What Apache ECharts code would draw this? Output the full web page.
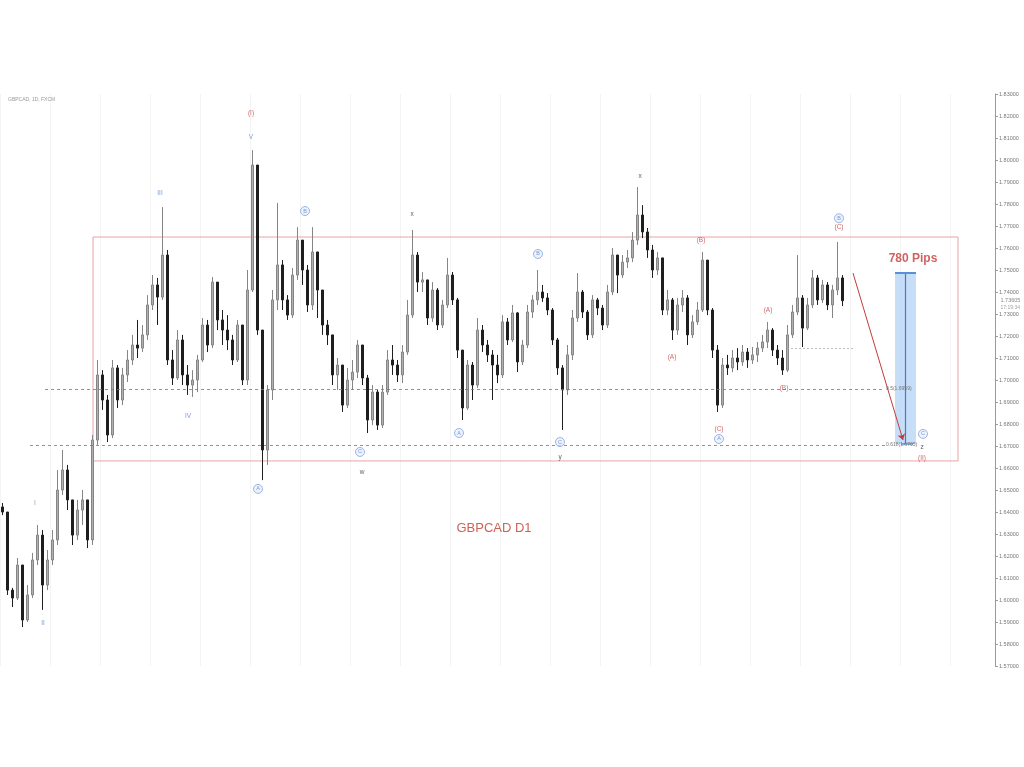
<!DOCTYPE html>
<html>
<head>
<meta charset="utf-8">
<title>GBPCAD D1</title>
<script src="https://cdn.jsdelivr.net/npm/echarts@6/dist/echarts.min.js"></script>
<style>
    html, body { margin: 0; padding: 0; background: #fff; }
    #main { width: 1024px; height: 767px; }
</style>
</head>
<body>
<div id="main"></div>
<script>
    // 日线数据: open 取上一根收盘价
    const firstOpen = 1.6423;
    const closes = [
        1.64, 1.6045, 1.6009, 1.6159, 1.5909, 1.6023, 1.6182, 1.6295, 1.6068, 1.6182,
        1.6273, 1.65, 1.6591, 1.6455, 1.6295, 1.6409, 1.6455, 1.6273, 1.6727, 1.7023,
        1.6909, 1.675, 1.7055, 1.6909, 1.7023, 1.7091, 1.7159, 1.7145, 1.7205, 1.7341,
        1.7432, 1.7377, 1.7568, 1.7091, 1.7009, 1.7182, 1.7023, 1.6977, 1.70, 1.7091,
        1.725, 1.7159, 1.7445, 1.7273, 1.7227, 1.7182, 1.7091, 1.725, 1.70, 1.7409,
        1.7977, 1.7227, 1.6682, 1.6955, 1.7364, 1.7523, 1.7364, 1.7295, 1.7477, 1.7636,
        1.75, 1.7341, 1.7582, 1.7409, 1.725, 1.7205, 1.7023, 1.7068, 1.6886, 1.70,
        1.7036, 1.7159, 1.7009, 1.6818, 1.6945, 1.6795, 1.6945, 1.7091, 1.7068, 1.7023,
        1.7127, 1.7295, 1.7568, 1.7445, 1.7455, 1.7282, 1.7409, 1.725, 1.7341, 1.7477,
        1.7364, 1.7136, 1.6873, 1.7068, 1.6977, 1.7227, 1.7159, 1.7114, 1.7068, 1.7023,
        1.7264, 1.7182, 1.7305, 1.7082, 1.7159, 1.7309, 1.7364, 1.74, 1.7373, 1.7318,
        1.7182, 1.7055, 1.6955, 1.7114, 1.7282, 1.74, 1.7309, 1.7205, 1.7364, 1.7327,
        1.725, 1.74, 1.7568, 1.7477, 1.7536, 1.7555, 1.7636, 1.775, 1.7673, 1.7591,
        1.75, 1.7555, 1.7318, 1.7364, 1.7227, 1.7341, 1.7373, 1.7205, 1.7264, 1.7318,
        1.7545, 1.7318, 1.7136, 1.6886, 1.7068, 1.7055, 1.71, 1.7082, 1.7127, 1.7091,
        1.7114, 1.7145, 1.7173, 1.7227, 1.7136, 1.71, 1.7045, 1.7205, 1.7309, 1.7373,
        1.7236, 1.7341, 1.7464, 1.7364, 1.7432, 1.7341, 1.7409, 1.7464, 1.73605
    ];
    const highs = [
        1.6441, 1.64, 1.6055, 1.6191, 1.6159, 1.6068, 1.6214, 1.6341, 1.6318, 1.6227,
        1.6318, 1.6591, 1.6682, 1.6614, 1.6455, 1.6455, 1.65, 1.6455, 1.675, 1.7091,
        1.7045, 1.6932, 1.7091, 1.7068, 1.7055, 1.7136, 1.7205, 1.7273, 1.725, 1.7386,
        1.7477, 1.7464, 1.7786, 1.7591, 1.7136, 1.7227, 1.7205, 1.7068, 1.7045, 1.7114,
        1.7282, 1.7273, 1.7468, 1.7432, 1.7318, 1.7295, 1.7205, 1.7273, 1.725, 1.75,
        1.8045, 1.7955, 1.7227, 1.6977, 1.7409, 1.7805, 1.7545, 1.7386, 1.7509, 1.7695,
        1.7636, 1.7523, 1.7695, 1.7568, 1.7409, 1.7273, 1.7205, 1.71, 1.7068, 1.7055,
        1.7091, 1.7182, 1.7159, 1.7023, 1.6977, 1.6955, 1.6977, 1.7136, 1.7159, 1.7091,
        1.7159, 1.7364, 1.7682, 1.7582, 1.7491, 1.7455, 1.7445, 1.7418, 1.7364, 1.7555,
        1.7491, 1.7373, 1.7136, 1.7091, 1.7082, 1.7282, 1.725, 1.7182, 1.7136, 1.7114,
        1.7295, 1.7282, 1.7341, 1.7309, 1.7182, 1.7341, 1.7386, 1.75, 1.7432, 1.7395,
        1.7327, 1.7191, 1.7068, 1.7159, 1.7318, 1.7486, 1.7409, 1.7318, 1.7386, 1.7373,
        1.7341, 1.7432, 1.76, 1.7555, 1.7568, 1.7591, 1.7673, 1.7877, 1.7795, 1.7691,
        1.7614, 1.7582, 1.7555, 1.7409, 1.7373, 1.7373, 1.7409, 1.7386, 1.7295, 1.7355,
        1.7582, 1.7545, 1.7327, 1.7159, 1.71, 1.7114, 1.7136, 1.7145, 1.7159, 1.7145,
        1.715, 1.7173, 1.7205, 1.7264, 1.7236, 1.7159, 1.7136, 1.725, 1.7341, 1.7568,
        1.7386, 1.7373, 1.75, 1.7477, 1.7455, 1.7445, 1.7432, 1.7627, 1.7477
    ];
    const lows = [
        1.6386, 1.6023, 1.5968, 1.60, 1.5877, 1.59, 1.6009, 1.6159, 1.5955, 1.6045,
        1.6159, 1.625, 1.6477, 1.6409, 1.625, 1.6273, 1.6341, 1.6236, 1.625, 1.6705,
        1.6864, 1.6718, 1.6736, 1.6873, 1.6886, 1.6991, 1.7068, 1.71, 1.7127, 1.7182,
        1.7318, 1.725, 1.7364, 1.7068, 1.6977, 1.70, 1.6977, 1.6932, 1.6923, 1.6945,
        1.7082, 1.7127, 1.7145, 1.7227, 1.7159, 1.7136, 1.7068, 1.7082, 1.6977, 1.6977,
        1.74, 1.7205, 1.6545, 1.6614, 1.6909, 1.7318, 1.7318, 1.7273, 1.7282, 1.7455,
        1.7432, 1.7309, 1.7318, 1.7282, 1.7205, 1.7159, 1.6977, 1.6955, 1.6855, 1.6873,
        1.6955, 1.7009, 1.6977, 1.6759, 1.6795, 1.6773, 1.6782, 1.6932, 1.7023, 1.6991,
        1.6986, 1.7114, 1.7282, 1.74, 1.74, 1.725, 1.7264, 1.7227, 1.7236, 1.7327,
        1.7341, 1.71, 1.6818, 1.6864, 1.6909, 1.6964, 1.7127, 1.7082, 1.6909, 1.6986,
        1.7009, 1.7159, 1.7173, 1.7036, 1.7068, 1.7145, 1.7282, 1.7341, 1.7355, 1.7295,
        1.7159, 1.7023, 1.6773, 1.6932, 1.7091, 1.7264, 1.7282, 1.7182, 1.7191, 1.7295,
        1.7227, 1.7236, 1.7386, 1.7395, 1.7464, 1.7509, 1.7536, 1.7614, 1.7645, 1.7555,
        1.7464, 1.7477, 1.7295, 1.7295, 1.7182, 1.7205, 1.7309, 1.7159, 1.7191, 1.725,
        1.7309, 1.7295, 1.71, 1.6855, 1.6873, 1.7023, 1.7036, 1.7045, 1.7064, 1.7055,
        1.7073, 1.7082, 1.7127, 1.7145, 1.7109, 1.7068, 1.7023, 1.7036, 1.7191, 1.7295,
        1.715, 1.7227, 1.7327, 1.7341, 1.735, 1.7318, 1.7282, 1.7386, 1.7336
    ];

    // 总槽位(含右侧空白)
    const slotCount = 199;
    const priceMin = 1.57;
    const priceMax = 1.83;
    const priceStep = 0.01;
    const lastPrice = 1.73605;
    const lastTime = '17:19:34';

    // 波浪标注 [槽位, 价格, 文字, 类型]
    const waveLabels = [
        [50.2, 1.8214, '(I)', 'red'],
        [50.2, 1.8105, 'V', 'blue'],
        [32, 1.785, 'III', 'blue'],
        [37.6, 1.6836, 'IV', 'blue'],
        [7, 1.6441, 'I', 'gray'],
        [8.6, 1.5895, 'II', 'blue'],
        [61, 1.7768, 'B', 'circle'],
        [51.6, 1.6505, 'A', 'circle'],
        [72, 1.6673, 'C', 'circle'],
        [72.4, 1.6582, 'w', 'black'],
        [82.4, 1.7755, 'x', 'black'],
        [91.8, 1.6759, 'A', 'circle'],
        [107.6, 1.7573, 'B', 'circle'],
        [112, 1.6718, 'C', 'circle'],
        [112, 1.665, 'y', 'black'],
        [128, 1.7927, 'x', 'black'],
        [140.2, 1.7636, '(B)', 'red'],
        [134.4, 1.7105, '(A)', 'red'],
        [143.8, 1.6778, '(C)', 'red'],
        [143.8, 1.6732, 'A', 'circle'],
        [153.6, 1.7318, '(A)', 'red'],
        [156.8, 1.6964, '(B)', 'red'],
        [167.8, 1.7735, 'B', 'circle'],
        [167.8, 1.7693, '(C)', 'red'],
        [184.6, 1.6755, 'C', 'circle'],
        [184.4, 1.6695, 'z', 'black'],
        [184.4, 1.6645, '(II)', 'red']
    ];

    // 区间框、斐波那契位
    const boxRange = [[18.6, 1.765], [191.6, 1.6632]];
    const fibLevels = [
        { text: '0.5(1.6959)', value: 1.6959, from: 9, to: 177 },
        { text: '0.618(1.6705)', value: 1.6705, from: 6, to: 177 }
    ];
    const minorLevel = { value: 1.7145, from: 157.4, to: 170.6 };
    const arrowPath = [[170.6, 1.7486], [180.6, 1.6727]];
    const pipsRange = { from: 179, to: 183.2, mid: 181.1, top: 1.7486, bottom: 1.6709 };
    const pipsText = [182.6, 1.7552, '780 Pips'];
    const chartTitle = [98.8, 1.6327, 'GBPCAD D1'];

    function drawChart() {
        let myChart = echarts.init(document.getElementById('main'));

        let categories = [];
        for (let i = 0; i < slotCount; i++) {
            categories.push(String(i + 1));
        }

        let candles = [];
        let prev = firstOpen;
        for (let i = 0; i < closes.length; i++) {
            let o = prev, c = closes[i];
            candles.push([o, c, Math.min(lows[i], o, c), Math.max(highs[i], o, c)]);
            prev = c;
        }

        const colors = { red: '#c84141', blue: '#5b7fcf', black: '#333', gray: '#888' };
        let labelData = waveLabels.map(function (w) {
            if (w[3] === 'circle') {
                return {
                    value: [w[0], w[1]],
                    symbol: 'circle',
                    symbolSize: 9,
                    itemStyle: { color: 'rgba(226,236,252,0.8)', borderColor: '#6a8fd8', borderWidth: 0.8 },
                    label: { show: true, position: 'inside', formatter: w[2], color: colors.blue, fontSize: 5.5 }
                };
            }
            return {
                value: [w[0], w[1]],
                symbolSize: 0,
                label: { show: true, position: 'inside', formatter: w[2], color: colors[w[3]], fontSize: 6.5 }
            };
        });
        labelData.push({
            value: [pipsText[0], pipsText[1]],
            symbolSize: 0,
            label: { show: true, position: 'inside', formatter: pipsText[2], color: '#c33a3a', fontSize: 12, fontWeight: 'bold' }
        });
        labelData.push({
            value: [chartTitle[0], chartTitle[1]],
            symbolSize: 0,
            label: { show: true, position: 'inside', formatter: chartTitle[2], color: '#c0392b', fontSize: 13 }
        });
        // 当前价格标签
        labelData.push({
            value: [200.1, lastPrice],
            symbolSize: 0,
            label: { show: true, position: 'right', distance: 0, formatter: lastPrice.toFixed(5), color: '#666', fontSize: 5.5 }
        });
        labelData.push({
            value: [200.1, lastPrice - 0.0032],
            symbolSize: 0,
            label: { show: true, position: 'right', distance: 0, formatter: lastTime, color: '#888', fontSize: 5 }
        });

        let lines = [];
        fibLevels.forEach(function (f) {
            lines.push([
                { coord: [f.from, f.value], lineStyle: { color: '#777', type: [3, 3], width: 0.8 } },
                { coord: [f.to, f.value], label: { show: true, position: 'end', distance: 1, formatter: f.text, color: '#777', fontSize: 5 } }
            ]);
        });
        lines.push([
            { coord: [minorLevel.from, minorLevel.value], lineStyle: { color: '#aaa', type: [2, 2], width: 0.8 } },
            { coord: [minorLevel.to, minorLevel.value] }
        ]);
        lines.push([
            { coord: arrowPath[0], lineStyle: { color: '#c23b3b', type: 'solid', width: 1 } },
            { coord: arrowPath[1], symbol: 'arrow', symbolSize: 6 }
        ]);
        lines.push([
            { coord: [pipsRange.mid, pipsRange.top], lineStyle: { color: '#4a78c8', type: 'solid', width: 1.2 } },
            { coord: [pipsRange.mid, pipsRange.bottom] }
        ]);
        lines.push([
            { coord: [pipsRange.from, pipsRange.top], lineStyle: { color: '#5b8fd6', type: 'solid', width: 2 } },
            { coord: [pipsRange.to, pipsRange.top] }
        ]);
        lines.push([
            { coord: [pipsRange.from + 1.2, pipsRange.bottom], lineStyle: { color: '#5b8fd6', type: 'solid', width: 1.5 } },
            { coord: [pipsRange.to - 0.6, pipsRange.bottom] }
        ]);

        myChart.setOption({
            animation: false,
            backgroundColor: '#fff',
            title: {
                text: 'GBPCAD, 1D, FXCM',
                left: 3,
                top: 92,
                textStyle: { fontSize: 5, color: '#999', fontWeight: 'normal' }
            },
            grid: { left: 0, right: 29, top: 94, bottom: 101 },
            xAxis: [
                {
                    type: 'category',
                    data: categories,
                    boundaryGap: true,
                    axisLine: { show: false },
                    axisTick: { show: false },
                    axisLabel: { show: false },
                    splitLine: { show: true, interval: 9, lineStyle: { color: '#f4f4f4' } }
                },
                { type: 'value', min: 0, max: slotCount, show: false }
            ],
            yAxis: {
                type: 'value',
                position: 'right',
                min: priceMin,
                max: priceMax,
                interval: priceStep,
                axisLine: { show: true, onZero: false, lineStyle: { color: '#999' } },
                axisTick: { show: true, length: 3, lineStyle: { color: '#999' } },
                axisLabel: {
                    fontSize: 5.5,
                    color: '#777',
                    margin: 4,
                    formatter: function (v) { return v.toFixed(5); }
                },
                splitLine: { show: false }
            },
            series: [
                {
                    type: 'candlestick',
                    xAxisIndex: 0,
                    data: candles,
                    barMaxWidth: 3,
                    itemStyle: {
                        color: '#b0b0b0',
                        color0: '#1e1e1e',
                        borderColor: '#858585',
                        borderColor0: '#1e1e1e',
                        borderWidth: 1
                    },
                    z: 3
                },
                {
                    type: 'scatter',
                    xAxisIndex: 1,
                    clip: false,
                    data: labelData,
                    z: 5,
                    markArea: {
                        silent: true,
                        data: [
                            [
                                { coord: boxRange[0], itemStyle: { color: 'rgba(0,0,0,0)', borderColor: '#eaa4a4', borderWidth: 1 } },
                                { coord: boxRange[1] }
                            ],
                            [
                                { coord: [pipsRange.from, pipsRange.top], itemStyle: { color: 'rgba(160,200,242,0.6)', borderWidth: 0 } },
                                { coord: [pipsRange.to, pipsRange.bottom] }
                            ]
                        ]
                    },
                    markLine: {
                        silent: true,
                        symbol: ['none', 'none'],
                        label: { show: false },
                        data: lines
                    }
                }
            ]
        });
    }

    drawChart();
</script>
</body>
</html>
